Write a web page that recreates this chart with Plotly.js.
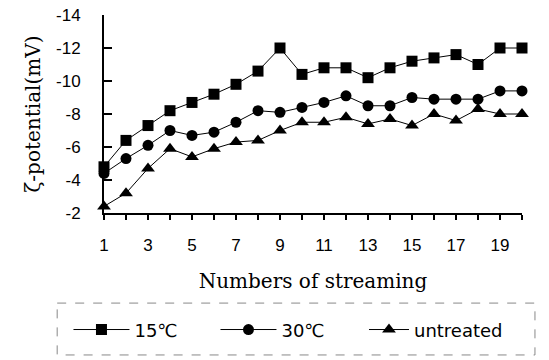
<!DOCTYPE html>
<html>
<head>
<meta charset="utf-8">
<script src="https://cdn.plot.ly/plotly-3.0.1.min.js"></script>
<style>html,body{margin:0;padding:0;background:#fff;}#chart{width:549px;height:360px;}</style>
</head>
<body>
<div id="chart"></div>
<script>
const streaming = [1,2,3,4,5,6,7,8,9,10,11,12,13,14,15,16,17,18,19,20];
const seriesNames = ["15℃", "30℃", "untreated"];
const zeta15 = [-4.8,-6.4,-7.3,-8.2,-8.7,-9.2,-9.8,-10.6,-12.0,-10.4,-10.8,-10.8,-10.2,-10.8,-11.2,-11.4,-11.6,-11.0,-12.0,-12.0];
const zeta30 = [-4.4,-5.3,-6.1,-7.0,-6.7,-6.9,-7.5,-8.2,-8.1,-8.4,-8.7,-9.1,-8.5,-8.5,-9.0,-8.9,-8.9,-8.9,-9.4,-9.4];
const zetaUntreated = [-2.4,-3.2,-4.7,-5.9,-5.4,-5.9,-6.3,-6.4,-7.0,-7.5,-7.5,-7.8,-7.4,-7.7,-7.3,-8.0,-7.6,-8.3,-8.0,-8.0];
const xTickLabels = ["1","","3","","5","","7","","9","","11","","13","","15","","17","","19",""];
const yTickVals = [-2,-4,-6,-8,-10,-12,-14];
const yTickLabels = ["-2","-4","-6","-8","-10","-12","-14"];

const sans = "Liberation Sans, Arial, sans-serif";
const serif = "DejaVu Serif, serif";

function trace(y, name, symbol, size, legendId) {
  return {
    x: streaming, y: y, name: name, type: "scatter", mode: "lines+markers",
    line: {color: "#000", width: 1},
    marker: {symbol: symbol, size: size, color: "#000"},
    cliponaxis: false, legend: legendId
  };
}

const data = [
  trace(zeta15, seriesNames[0], "square", 11, "legend"),
  trace(zeta30, seriesNames[1], "circle", 11, "legend"),
  trace(zetaUntreated, seriesNames[2], "triangle-up", 12, "legend2")
];

const legendFont = {family: "DejaVu Sans, sans-serif", size: 18, color: "#000"};

const layout = {
  width: 549, height: 360,
  margin: {l: 104, r: 27, t: 15, b: 147},
  paper_bgcolor: "#fff", plot_bgcolor: "#fff",
  showlegend: true,
  xaxis: {
    range: [1, 20], tickmode: "array", tickvals: streaming, ticktext: xTickLabels,
    ticks: "outside", ticklen: 5, tickwidth: 1.5, tickcolor: "#000",
    showline: true, linecolor: "#000", linewidth: 2,
    showgrid: false, zeroline: false,
    ticklabelstandoff: 11,
    tickfont: {family: sans, size: 17, color: "#000"},
    title: {text: "Numbers of streaming", font: {family: serif, size: 20, color: "#000"}, standoff: 20}
  },
  xaxis2: {
    overlaying: "x", anchor: "y", side: "bottom",
    range: [1, 20], tickmode: "array", tickvals: streaming, showticklabels: false,
    ticks: "inside", ticklen: 5, tickwidth: 1.5, tickcolor: "#000",
    showline: false, showgrid: false, zeroline: false
  },
  yaxis: {
    range: [-2, -14], tickmode: "array", tickvals: yTickVals, ticktext: yTickLabels,
    ticks: "inside", ticklen: 8, tickwidth: 1.5, tickcolor: "#000",
    showline: true, linecolor: "#000", linewidth: 2,
    showgrid: false, zeroline: false,
    ticklabelstandoff: 18,
    tickfont: {family: sans, size: 17, color: "#000"},
    title: {text: "ζ-potential(mV)", font: {family: serif, size: 20, color: "#000"}, standoff: 10}
  },
  legend: {
    orientation: "h", x: -0.085, xanchor: "left", y: -0.59, yanchor: "middle",
    font: legendFont,
    itemwidth: 56, entrywidth: 76, bgcolor: "rgba(0,0,0,0)", borderwidth: 0,
    itemclick: false
  },
  legend2: {
    orientation: "h", x: 0.622, xanchor: "left", y: -0.59, yanchor: "middle",
    font: legendFont,
    itemwidth: 40, bgcolor: "rgba(0,0,0,0)", borderwidth: 0,
    itemclick: false
  },
  shapes: [{
    type: "rect", xref: "paper", yref: "paper",
    x0: -0.112, x1: 1.031, y0: -0.455, y1: -0.717,
    line: {color: "#888", width: 1, dash: "dash"}
  }]
};

Plotly.newPlot("chart", data, layout, {staticPlot: true, displayModeBar: false});
</script>
</body>
</html>
